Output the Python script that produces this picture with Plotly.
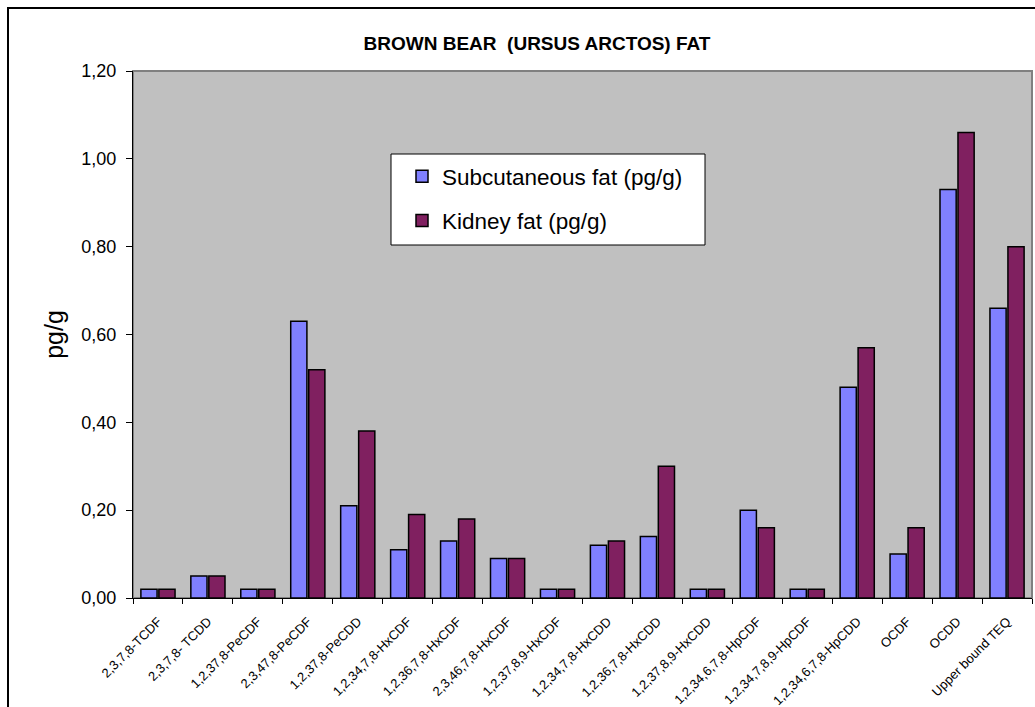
import plotly.graph_objects as go

# PCDD/F congeners measured in brown bear fat
congeners = [
    "2,3,7,8-TCDF", "2,3,7,8- TCDD", "1,2,37,8-PeCDF", "2,3,47,8-PeCDF",
    "1,2,37,8-PeCDD", "1,2,34,7,8-HxCDF", "1,2,36,7,8-HxCDF", "2,3,46,7,8-HxCDF",
    "1,2,37,8,9-HxCDF", "1,2,34,7,8-HxCDD", "1,2,36,7,8-HxCDD", "1,2,37,8,9-HxCDD",
    "1,2,34,6,7,8-HpCDF", "1,2,34,7,8,9-HpCDF", "1,2,34,6,7,8-HpCDD",
    "OCDF", "OCDD", "Upper bound TEQ",
]
subcutaneous = [0.02, 0.05, 0.02, 0.63, 0.21, 0.11, 0.13, 0.09, 0.02,
                0.12, 0.14, 0.02, 0.20, 0.02, 0.48, 0.10, 0.93, 0.66]
kidney = [0.02, 0.05, 0.02, 0.52, 0.38, 0.19, 0.18, 0.09, 0.02,
          0.13, 0.30, 0.02, 0.16, 0.02, 0.57, 0.16, 1.06, 0.80]
y_ticks = [0.0, 0.2, 0.4, 0.6, 0.8, 1.0, 1.2]

FONT = "Liberation Sans, Arial, sans-serif"
W, H = 1035, 707
L, R, T, B = 133, 3, 71, 109
PW, PH = W - L - R, H - T - B


def px_x(x):
    return (x - L) / PW


def px_y(y):
    return (H - B - y) / PH


fig = go.Figure()
fig.add_trace(go.Bar(
    x=congeners, y=subcutaneous, name="Subcutaneous fat (pg/g)",
    marker=dict(color="#8080FF", line=dict(color="black", width=1.5)),
    legendgroup="a",
))
fig.add_trace(go.Bar(
    x=congeners, y=kidney, name="Kidney fat (pg/g)",
    marker=dict(color="#802060", line=dict(color="black", width=1.5)),
    legendgroup="b",
))

fig.update_layout(
    width=W, height=H,
    margin=dict(l=L, r=R, t=T, b=B, autoexpand=False),
    paper_bgcolor="white",
    plot_bgcolor="#C0C0C0",
    separators=",.",
    barmode="group",
    bargap=0.28,
    bargroupgap=0.1,
    font=dict(family=FONT, color="black"),
    title=dict(
        text="<b>BROWN BEAR  (URSUS ARCTOS) FAT</b>",
        font=dict(family=FONT, size=19, color="black"),
        x=px_x(537), xref="paper", xanchor="center",
        y=1 - 43 / H, yref="container", yanchor="middle",
    ),
    showlegend=True,
    legend=dict(
        x=px_x(402), y=px_y(155), xanchor="left", yanchor="top",
        bgcolor="rgba(0,0,0,0)", borderwidth=0,
        font=dict(family=FONT, size=22.5, color="black"),
        tracegroupgap=12,
    ),
    xaxis=dict(
        type="category",
        tickson="boundaries",
        ticks="outside", ticklen=5, tickcolor="black", tickwidth=1,
        ticklabelstandoff=10,
        showline=True, linecolor="black", linewidth=1,
        showgrid=False, zeroline=False,
        tickangle=-45,
        tickfont=dict(family=FONT, size=13, color="black"),
        automargin=False,
    ),
    yaxis=dict(
        range=[0, 1.2],
        tickvals=y_ticks,
        tickformat=".2f",
        ticks="outside", ticklen=6, tickcolor="black", tickwidth=1,
        ticklabelstandoff=6,
        showline=True, linecolor="black", linewidth=1,
        showgrid=False, zeroline=False,
        tickfont=dict(family=FONT, size=18, color="black"),
        title=dict(text="pg/g", font=dict(family=FONT, size=25, color="black"), standoff=10),
        automargin=False,
    ),
    shapes=[
        # plot-area frame
        dict(type="rect", xref="paper", yref="paper", x0=0, x1=1, y0=0, y1=1,
             line=dict(color="#808080", width=2), layer="below"),
        # legend box
        dict(type="rect", xref="paper", yref="paper",
             x0=px_x(391), x1=px_x(705), y0=px_y(245), y1=px_y(154),
             line=dict(color="black", width=1), fillcolor="white", layer="above"),
        # outer chart border
        dict(type="rect", xref="paper", yref="paper",
             x0=px_x(8), x1=px_x(1060), y0=px_y(740), y1=px_y(8),
             line=dict(color="black", width=2)),
    ],
)

fig.write_html("out.html")
